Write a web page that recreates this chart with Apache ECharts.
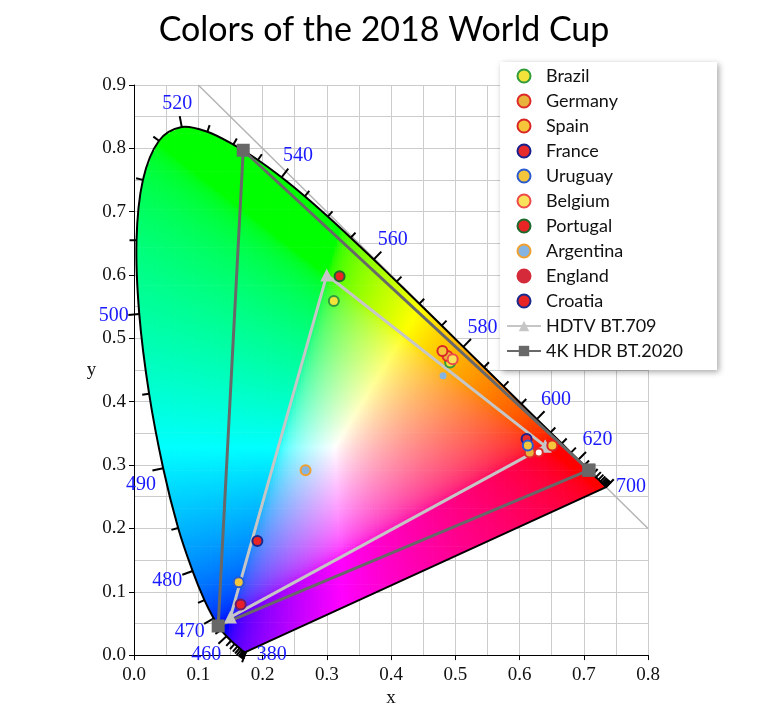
<!DOCTYPE html>
<html>
<head>
<meta charset="utf-8">
<script src="https://cdn.jsdelivr.net/npm/echarts@6/dist/echarts.min.js"></script>
<style>
  html, body { margin: 0; padding: 0; background: #fff; }
  #chart { width: 768px; height: 713px; }
</style>
</head>
<body>
<div id="chart"></div>
<script>
// CIE 1931 spectral locus, 5 nm steps
const locusWl = [380,385,390,395,400,405,410,415,420,425,430,435,440,445,450,455,
  460,465,470,475,480,485,490,495,500,505,510,515,520,525,530,535,
  540,545,550,555,560,565,570,575,580,585,590,595,600,605,610,615,
  620,625,630,635,640,645,650,655,660,665,670,675,680,685,690,695,700];
const locusX = [0.1741,0.1740,0.1738,0.1736,0.1733,0.1730,0.1726,0.1721,
  0.1714,0.1703,0.1689,0.1669,0.1644,0.1611,0.1566,0.1510,
  0.1440,0.1355,0.1241,0.1096,0.0913,0.0687,0.0454,0.0235,
  0.0082,0.0039,0.0139,0.0389,0.0743,0.1142,0.1547,0.1929,
  0.2296,0.2658,0.3016,0.3373,0.3731,0.4087,0.4441,0.4788,
  0.5125,0.5448,0.5752,0.6029,0.6270,0.6482,0.6658,0.6801,
  0.6915,0.7006,0.7079,0.7140,0.7190,0.7230,0.7260,0.7283,
  0.7300,0.7311,0.7320,0.7327,0.7334,0.7340,0.7344,0.7346,0.7347];
const locusY = [0.0050,0.0050,0.0049,0.0049,0.0048,0.0048,0.0048,0.0048,
  0.0051,0.0058,0.0069,0.0086,0.0109,0.0138,0.0177,0.0227,
  0.0297,0.0399,0.0578,0.0868,0.1327,0.2007,0.2950,0.4127,
  0.5384,0.6548,0.7502,0.8120,0.8338,0.8262,0.8059,0.7816,
  0.7543,0.7243,0.6923,0.6589,0.6245,0.5896,0.5547,0.5202,
  0.4866,0.4544,0.4242,0.3965,0.3725,0.3514,0.3340,0.3197,
  0.3083,0.2993,0.2920,0.2859,0.2809,0.2770,0.2740,0.2717,
  0.2700,0.2689,0.2680,0.2673,0.2666,0.2660,0.2656,0.2654,0.2653];
const labeledWl = [380,460,470,480,490,500,520,540,560,580,600,620,700];

// gamut triangles (R, G, B, back to R)
const bt709  = [[0.64,0.33],[0.30,0.60],[0.15,0.06],[0.64,0.33]];
const bt2020 = [[0.708,0.292],[0.170,0.797],[0.131,0.046],[0.708,0.292]];

// team colour points
const brazil    = [[0.311,0.559],[0.492,0.462]];
const germany   = [[0.488,0.472],[0.616,0.320]];
const spain     = [[0.480,0.480],[0.651,0.331]];
const france    = [[0.611,0.341]];
const uruguay   = [[0.163,0.115],[0.613,0.331]];
const belgium   = [[0.496,0.467]];
const portugal  = [[0.320,0.598]];
const argentina = [[0.267,0.292]];
const argentinaSky = [[0.481,0.441]];
const england   = [[0.166,0.080]];
const englandWhite = [[0.630,0.320]];
const croatia   = [[0.192,0.180]];

const chart = echarts.init(document.getElementById("chart"));

const WHITE = [0.3127, 0.329];

// xy -> displayable sRGB (clip negatives, normalise to max)
const chroma = (x, y) => {
  const X = x / y, Z = (1 - x - y) / y;
  let c = [
    3.2406 * X - 1.5372 - 0.4986 * Z,
    -0.9689 * X + 1.8758 + 0.0415 * Z,
    0.0557 * X - 0.2040 + 1.0570 * Z,
  ].map(v => Math.max(v, 0));
  const m = Math.max(...c) || 1;
  c = c.map(v => {
    v = v / m;
    v = v <= 0.0031308 ? 12.92 * v : 1.055 * Math.pow(v, 1 / 2.4) - 0.055;
    return Math.round(Math.min(1, v) * 255);
  });
  return `rgb(${c[0]},${c[1]},${c[2]})`;
};

const inside = (px, py) => {
  let r = false;
  for (let i = 0, j = locusX.length - 1; i < locusX.length; j = i++) {
    const xi = locusX[i], yi = locusY[i], xj = locusX[j], yj = locusY[j];
    if ((yi > py) !== (yj > py) && px < (xj - xi) * (py - yi) / (yj - yi) + xi) r = !r;
  }
  return r;
};

// smooth closed outline through the locus points (straight purple line back)
const locusPath = (api) => {
  const p = locusX.map((x, k) => api.coord([x, locusY[k]]));
  const n = p.length;
  let d = `M${p[0][0]},${p[0][1]}`;
  for (let i = 0; i < n - 1; i++) {
    const a = p[Math.max(i - 1, 0)], b = p[i], c = p[i + 1], e = p[Math.min(i + 2, n - 1)];
    const c1 = [b[0] + (c[0] - a[0]) / 6, b[1] + (c[1] - a[1]) / 6];
    const c2 = [c[0] - (e[0] - b[0]) / 6, c[1] - (e[1] - b[1]) / 6];
    d += ` C${c1[0]},${c1[1]} ${c2[0]},${c2[1]} ${c[0]},${c[1]}`;
  }
  return d + " Z";
};

const renderGamut = (params, api) => {
  const step = 0.004;
  const children = [];
  for (let i = 0; i < 188; i++) {
    for (let j = 0; j < 212; j++) {
      const x0 = i * step, y0 = j * step;
      const hit = inside(x0 + step / 2, y0 + step / 2) || inside(x0, y0) ||
        inside(x0 + step, y0) || inside(x0, y0 + step) || inside(x0 + step, y0 + step) ||
        inside(x0 + step / 2, y0 + step * 1.5) || inside(x0 - step / 2, y0 + step / 2);
      if (!hit) continue;
      const a = api.coord([x0, y0 + step]);
      const b = api.coord([x0 + step, y0]);
      const cx = Math.min(Math.max(x0 + step / 2, 0.002), 0.74);
      const cy = Math.max(y0 + step / 2, 0.004);
      children.push({
        type: "rect",
        shape: { x: a[0], y: a[1], width: b[0] - a[0] + 0.7, height: b[1] - a[1] + 0.7 },
        style: { fill: chroma(cx, cy) },
      });
    }
  }
  return { type: "group", children, clipPath: { type: "path", shape: { pathData: locusPath(api) } } };
};

const renderOutline = (params, api) => ({
  type: "path",
  shape: { pathData: locusPath(api) },
  style: { fill: null, stroke: "#000", lineWidth: 2, lineJoin: "round" },
});

const labelDir = { 380: [1, 0.12], 490: [-0.8, 0.6], 700: [1, 0] };

const renderTick = (params, api) => {
  const i = params.dataIndex;
  const pts = locusX.map((x, k) => api.coord([x, locusY[k]]));
  const p = pts[i];
  const far = (a, b) => Math.hypot(a[0] - b[0], a[1] - b[1]) >= 3;
  let lo = i, hi = i;
  while (lo > 0 && !far(pts[lo], p)) lo--;
  while (hi < pts.length - 1 && !far(pts[hi], p)) hi++;
  let tx = pts[hi][0] - pts[lo][0], ty = pts[hi][1] - pts[lo][1];
  let len = Math.hypot(tx, ty) || 1;
  let nx = ty / len, ny = -tx / len;
  const w = api.coord(WHITE);
  if (nx * (p[0] - w[0]) + ny * (p[1] - w[1]) < 0) { nx = -nx; ny = -ny; }
  const wl = locusWl[i];
  const big = labeledWl.includes(wl);
  const tl = big ? 11 : 7;
  const children = [{
    type: "line",
    shape: { x1: p[0], y1: p[1], x2: p[0] + nx * tl, y2: p[1] + ny * tl },
    style: { stroke: "#000", lineWidth: 2 },
  }];
  if (big) {
    let dx = nx, dy = ny;
    if (labelDir[wl]) { dx = labelDir[wl][0]; dy = labelDir[wl][1]; }
    const d = 14 + Math.abs(dx) * 11 + Math.abs(dy) * 8;
    children.push({
      type: "text",
      x: p[0] + dx * d, y: p[1] + dy * d,
      style: {
        text: String(wl), fill: "#1a1aff", fontSize: 20,
        fontFamily: "Liberation Serif", align: "center", verticalAlign: "middle",
      },
    });
  }
  return { type: "group", children };
};

const serif = { fontFamily: "Liberation Serif", fontSize: 19, color: "#111" };

const team = (name, data, fill, border, size = 10) => ({
  name, type: "scatter", data,
  symbol: "circle", symbolSize: size,
  itemStyle: { color: fill, borderColor: border, borderWidth: 2, opacity: 1 },
  z: 6,
});

const options = {
  animation: false,
  title: {
    text: "Colors of the 2018 World Cup",
    left: "center", top: 8,
    textStyle: { fontFamily: "Lato", fontSize: 34, fontWeight: "normal", color: "#000" },
  },
  grid: { left: 134, right: 120, top: 85, bottom: 52 },
  xAxis: {
    type: "value", min: 0, max: 0.8, interval: 0.1,
    name: "x", nameLocation: "middle", nameGap: 30, nameTextStyle: serif,
    axisLine: { show: true, onZero: false, lineStyle: { color: "#000", width: 1 } },
    axisTick: { show: true, length: 5, lineStyle: { color: "#000" } },
    minorTick: { show: true, splitNumber: 2, length: 0 },
    minorSplitLine: { show: true, lineStyle: { color: "#cccccc", width: 1 } },
    splitLine: { show: true, lineStyle: { color: "#cccccc", width: 1 } },
    axisLabel: { ...serif, margin: 10, formatter: v => v.toFixed(1) },
  },
  yAxis: {
    type: "value", min: 0, max: 0.9, interval: 0.1,
    name: "y", nameLocation: "middle", nameGap: 34, nameRotate: 0, nameTextStyle: serif,
    axisLine: { show: true, onZero: false, lineStyle: { color: "#000", width: 1 } },
    axisTick: { show: true, length: 5, lineStyle: { color: "#000" } },
    minorTick: { show: true, splitNumber: 2, length: 0 },
    minorSplitLine: { show: true, lineStyle: { color: "#cccccc", width: 1 } },
    splitLine: { show: true, lineStyle: { color: "#cccccc", width: 1 } },
    axisLabel: { ...serif, margin: 8, formatter: v => v.toFixed(1) },
  },
  legend: {
    orient: "vertical", left: 500, top: 62,
    padding: [5, 34, 10, 6],
    itemWidth: 34, itemHeight: 13, itemGap: 7,
    backgroundColor: "#fff",
    shadowBlur: 6, shadowColor: "rgba(0,0,0,0.35)", shadowOffsetX: 2, shadowOffsetY: 2,
    textStyle: { fontFamily: "Lato", fontSize: 18, color: "#111" },
    data: ["Brazil","Germany","Spain","France","Uruguay","Belgium","Portugal",
      "Argentina","England","Croatia","HDTV BT.709","4K HDR BT.2020"],
  },
  series: [
    {
      type: "line", data: [[0.1, 0.9], [0.8, 0.2]], symbol: "none", silent: true,
      lineStyle: { color: "#b4b4b4", width: 1.5 }, z: 1,
    },
    { type: "custom", data: [[0, 0]], renderItem: renderGamut, silent: true, z: 2 },
    { type: "custom", data: [[0, 0]], renderItem: renderOutline, silent: true, z: 3 },
    {
      type: "custom", silent: true, z: 3,
      data: locusX.map((x, k) => [x, locusY[k]]),
      renderItem: renderTick,
    },
    {
      name: "HDTV BT.709", type: "line", data: bt709,
      symbol: "triangle", symbolSize: 13, z: 4,
      lineStyle: { color: "#c6c6c6", width: 3 },
      itemStyle: { color: "#c6c6c6" },
    },
    {
      name: "4K HDR BT.2020", type: "line", data: bt2020,
      symbol: "rect", symbolSize: 13, z: 4,
      lineStyle: { color: "#686868", width: 3 },
      itemStyle: { color: "#686868" },
    },
    team("Brazil", brazil, "#f2e23a", "#2f9b3a"),
    team("Germany", germany, "#e9b23c", "#dd2a2a"),
    team("Spain", spain, "#f6c53a", "#d92626"),
    team("France", france, "#e82a2a", "#1a1f8c"),
    team("Uruguay", uruguay, "#f2c53a", "#2a5ad0"),
    team("Belgium", belgium, "#f8e25c", "#ef4a4a"),
    team("Portugal", portugal, "#e82424", "#1c6a2c"),
    {
      ...team("Argentina", argentina, "#86b4e2", "#f0a030"),
      data: argentina.concat(argentinaSky.map(v => ({
        value: v, symbolSize: 7, itemStyle: { borderWidth: 0 },
      }))),
    },
    {
      ...team("England", england, "#d42a3a", "#d42a3a", 8),
      data: england.map(v => ({ value: v, symbolSize: 10, itemStyle: { color: "#e8202a", borderColor: "#6a1a6a" } }))
        .concat(englandWhite.map(v => ({ value: v, itemStyle: { color: "#fff", borderColor: "#e02a2a" } }))),
    },
    team("Croatia", croatia, "#e82424", "#1a2a8c"),
  ],
};

chart.setOption(options);
</script>
</body>
</html>
